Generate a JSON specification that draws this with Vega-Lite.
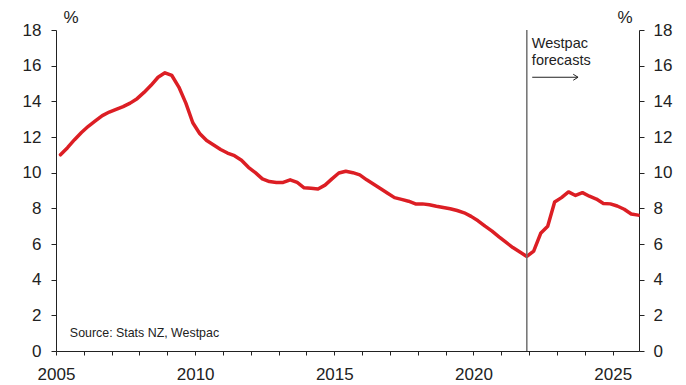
{
  "$schema": "https://vega.github.io/schema/vega-lite/v6.json",
  "width": 583,
  "height": 321,
  "autosize": {"type": "none"},
  "padding": {"left": 56, "top": 30, "right": 47, "bottom": 34},
  "background": "white",
  "config": {
    "view": {"stroke": null},
    "font": "Liberation Sans",
    "axis": {
      "grid": false,
      "domainColor": "#222222",
      "tickColor": "#222222",
      "labelColor": "#222222",
      "titleColor": "#222222",
      "labelFont": "Liberation Sans",
      "titleFont": "Liberation Sans",
      "labelFontSize": 17,
      "titleFontSize": 17,
      "titleFontWeight": "normal"
    }
  },
  "datasets": {
    "series": [
      {"date": "2005-03-01", "value": 11.0},
      {"date": "2005-06-01", "value": 11.4},
      {"date": "2005-09-01", "value": 11.85},
      {"date": "2005-12-01", "value": 12.25},
      {"date": "2006-03-01", "value": 12.6},
      {"date": "2006-06-01", "value": 12.9},
      {"date": "2006-09-01", "value": 13.2},
      {"date": "2006-12-01", "value": 13.4},
      {"date": "2007-03-01", "value": 13.55},
      {"date": "2007-06-01", "value": 13.7},
      {"date": "2007-09-01", "value": 13.9},
      {"date": "2007-12-01", "value": 14.15},
      {"date": "2008-03-01", "value": 14.5},
      {"date": "2008-06-01", "value": 14.9},
      {"date": "2008-09-01", "value": 15.35},
      {"date": "2008-12-01", "value": 15.6},
      {"date": "2009-03-01", "value": 15.45},
      {"date": "2009-06-01", "value": 14.8},
      {"date": "2009-09-01", "value": 13.9},
      {"date": "2009-12-01", "value": 12.8},
      {"date": "2010-03-01", "value": 12.2},
      {"date": "2010-06-01", "value": 11.8},
      {"date": "2010-09-01", "value": 11.55},
      {"date": "2010-12-01", "value": 11.3},
      {"date": "2011-03-01", "value": 11.1},
      {"date": "2011-06-01", "value": 10.95},
      {"date": "2011-09-01", "value": 10.7},
      {"date": "2011-12-01", "value": 10.3},
      {"date": "2012-03-01", "value": 10.0},
      {"date": "2012-06-01", "value": 9.65},
      {"date": "2012-09-01", "value": 9.5},
      {"date": "2012-12-01", "value": 9.45},
      {"date": "2013-03-01", "value": 9.45},
      {"date": "2013-06-01", "value": 9.6},
      {"date": "2013-09-01", "value": 9.45},
      {"date": "2013-12-01", "value": 9.15},
      {"date": "2014-03-01", "value": 9.12},
      {"date": "2014-06-01", "value": 9.08},
      {"date": "2014-09-01", "value": 9.3},
      {"date": "2014-12-01", "value": 9.65},
      {"date": "2015-03-01", "value": 9.98},
      {"date": "2015-06-01", "value": 10.08},
      {"date": "2015-09-01", "value": 10.0},
      {"date": "2015-12-01", "value": 9.88},
      {"date": "2016-03-01", "value": 9.6},
      {"date": "2016-06-01", "value": 9.35},
      {"date": "2016-09-01", "value": 9.1},
      {"date": "2016-12-01", "value": 8.85},
      {"date": "2017-03-01", "value": 8.6},
      {"date": "2017-06-01", "value": 8.5},
      {"date": "2017-09-01", "value": 8.4},
      {"date": "2017-12-01", "value": 8.25},
      {"date": "2018-03-01", "value": 8.25},
      {"date": "2018-06-01", "value": 8.2},
      {"date": "2018-09-01", "value": 8.12},
      {"date": "2018-12-01", "value": 8.05},
      {"date": "2019-03-01", "value": 7.98},
      {"date": "2019-06-01", "value": 7.88},
      {"date": "2019-09-01", "value": 7.75},
      {"date": "2019-12-01", "value": 7.55},
      {"date": "2020-03-01", "value": 7.3},
      {"date": "2020-06-01", "value": 7.0},
      {"date": "2020-09-01", "value": 6.72},
      {"date": "2020-12-01", "value": 6.4},
      {"date": "2021-03-01", "value": 6.1},
      {"date": "2021-06-01", "value": 5.8},
      {"date": "2021-09-01", "value": 5.55},
      {"date": "2021-12-01", "value": 5.3},
      {"date": "2022-03-01", "value": 5.6},
      {"date": "2022-06-01", "value": 6.6},
      {"date": "2022-09-01", "value": 7.0},
      {"date": "2022-12-01", "value": 8.35},
      {"date": "2023-03-01", "value": 8.6},
      {"date": "2023-06-01", "value": 8.92},
      {"date": "2023-09-01", "value": 8.72},
      {"date": "2023-12-01", "value": 8.88},
      {"date": "2024-03-01", "value": 8.68},
      {"date": "2024-06-01", "value": 8.52},
      {"date": "2024-09-01", "value": 8.27},
      {"date": "2024-12-01", "value": 8.25},
      {"date": "2025-03-01", "value": 8.13},
      {"date": "2025-06-01", "value": 7.95},
      {"date": "2025-09-01", "value": 7.68},
      {"date": "2025-12-01", "value": 7.62}
    ],
    "single": [{}]
  },
  "resolve": {
    "scale": {"x": "shared", "y": "shared"},
    "axis": {"x": "independent", "y": "independent"}
  },
  "layer": [
    {
      "data": {"name": "series"},
      "mark": {"type": "line", "color": "#dc1e24", "strokeWidth": 3.5, "strokeJoin": "round", "strokeCap": "round"},
      "encoding": {
        "x": {
          "field": "date",
          "type": "temporal",
          "scale": {
            "type": "utc",
            "domain": [
              {"year": 2005, "month": 1, "date": 1, "utc": true},
              {"year": 2025, "month": 12, "date": 12, "utc": true}
            ]
          },
          "axis": {
            "orient": "bottom",
            "title": null,
            "values": [
              {"year": 2005, "utc": true}, {"year": 2006, "utc": true}, {"year": 2007, "utc": true},
              {"year": 2008, "utc": true}, {"year": 2009, "utc": true}, {"year": 2010, "utc": true},
              {"year": 2011, "utc": true}, {"year": 2012, "utc": true}, {"year": 2013, "utc": true},
              {"year": 2014, "utc": true}, {"year": 2015, "utc": true}, {"year": 2016, "utc": true},
              {"year": 2017, "utc": true}, {"year": 2018, "utc": true}, {"year": 2019, "utc": true},
              {"year": 2020, "utc": true}, {"year": 2021, "utc": true}, {"year": 2022, "utc": true},
              {"year": 2023, "utc": true}, {"year": 2024, "utc": true}, {"year": 2025, "utc": true}
            ],
            "labels": false,
            "tickSize": 4
          }
        },
        "y": {
          "field": "value",
          "type": "quantitative",
          "scale": {"domain": [0, 18], "nice": false},
          "axis": {
            "orient": "left",
            "values": [0, 2, 4, 6, 8, 10, 12, 14, 16, 18],
            "tickSize": 5,
            "labelPadding": 10,
            "title": "%",
            "titleAngle": 0,
            "titleAlign": "left",
            "titleBaseline": "alphabetic",
            "titleX": 7,
            "titleY": -8
          }
        }
      }
    },
    {
      "data": {"name": "single"},
      "mark": {"type": "rule", "color": "#707070", "strokeWidth": 1.5},
      "encoding": {
        "x": {
          "datum": {"year": 2021, "month": 12, "date": 1, "utc": true},
          "type": "temporal",
          "axis": {
            "orient": "bottom",
            "title": null,
            "values": [
              {"year": 2005, "utc": true}, {"year": 2010, "utc": true}, {"year": 2015, "utc": true},
              {"year": 2020, "utc": true}, {"year": 2025, "utc": true}
            ],
            "format": "%Y",
            "domain": false,
            "ticks": false,
            "labelFlush": false,
            "labelOverlap": false,
            "labelBound": false,
            "labelPadding": 15
          }
        }
      }
    },
    {
      "data": {"name": "single"},
      "mark": {"type": "rule", "color": "#222222", "strokeWidth": 1},
      "encoding": {
        "x": {"datum": {"year": 2022, "month": 2, "date": 10, "utc": true}, "type": "temporal", "axis": null},
        "x2": {"datum": {"year": 2023, "month": 10, "date": 4, "utc": true}},
        "y": {
          "datum": 15.35,
          "type": "quantitative",
          "axis": {
            "orient": "right",
            "values": [0, 2, 4, 6, 8, 10, 12, 14, 16, 18],
            "tickSize": 5,
            "labelPadding": 9,
            "title": "%",
            "titleAngle": 0,
            "titleAlign": "left",
            "titleBaseline": "alphabetic",
            "titleX": -22,
            "titleY": -8
          }
        }
      }
    },
    {
      "data": {"name": "single"},
      "mark": {
        "type": "point",
        "shape": "M-1.6,-1L0,0L-1.6,1",
        "size": 36,
        "filled": false,
        "stroke": "#222222",
        "strokeWidth": 1,
        "opacity": 1
      },
      "encoding": {
        "x": {"datum": {"year": 2023, "month": 10, "date": 4, "utc": true}, "type": "temporal", "axis": null},
        "y": {"datum": 15.35, "type": "quantitative", "axis": null}
      }
    },
    {
      "data": {"name": "single"},
      "mark": {
        "type": "text",
        "align": "left",
        "baseline": "alphabetic",
        "fontSize": 14.5,
        "lineHeight": 16.5,
        "color": "#222222",
        "font": "Liberation Sans"
      },
      "encoding": {
        "x": {"datum": {"year": 2022, "month": 2, "date": 5, "utc": true}, "type": "temporal", "axis": null},
        "y": {"datum": 16.99, "type": "quantitative", "axis": null},
        "text": {"value": ["Westpac", "forecasts"]}
      }
    },
    {
      "data": {"name": "single"},
      "mark": {
        "type": "text",
        "align": "left",
        "baseline": "alphabetic",
        "fontSize": 12.4,
        "color": "#222222",
        "font": "Liberation Sans"
      },
      "encoding": {
        "x": {"datum": {"year": 2005, "month": 7, "date": 2, "utc": true}, "type": "temporal", "axis": null},
        "y": {"datum": 0.77, "type": "quantitative", "axis": null},
        "text": {"value": "Source: Stats NZ, Westpac"}
      }
    }
  ]
}
